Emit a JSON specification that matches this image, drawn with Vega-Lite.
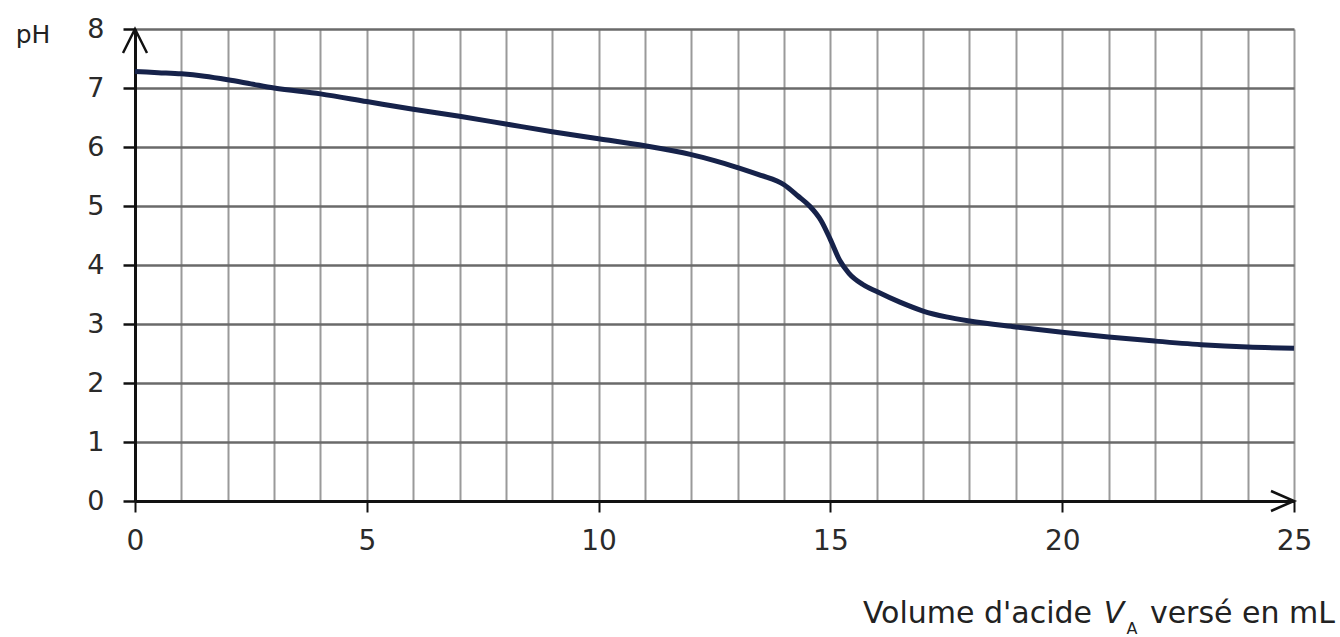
{
  "$schema": "https://vega.github.io/schema/vega-lite/v6.json",
  "width": 1159,
  "height": 472,
  "autosize": {"type": "none"},
  "padding": {"left": 135, "top": 29, "right": 46, "bottom": 136},
  "background": "white",
  "config": {
    "view": {"stroke": null},
    "font": "DejaVu Sans"
  },
  "layer": [
    {
      "data": {
        "values": [
          {"V": 0, "pH": 7.28},
          {"V": 0.5, "pH": 7.26},
          {"V": 1, "pH": 7.24},
          {"V": 1.5, "pH": 7.2},
          {"V": 2, "pH": 7.14},
          {"V": 2.5, "pH": 7.07},
          {"V": 3, "pH": 7.0},
          {"V": 4, "pH": 6.9},
          {"V": 5, "pH": 6.77},
          {"V": 6, "pH": 6.64},
          {"V": 7, "pH": 6.52},
          {"V": 8, "pH": 6.39},
          {"V": 9, "pH": 6.26},
          {"V": 10, "pH": 6.14},
          {"V": 11, "pH": 6.02},
          {"V": 12, "pH": 5.87},
          {"V": 12.5, "pH": 5.77},
          {"V": 13, "pH": 5.65},
          {"V": 13.5, "pH": 5.52},
          {"V": 14, "pH": 5.36},
          {"V": 14.3, "pH": 5.17},
          {"V": 14.55, "pH": 5.0},
          {"V": 14.8, "pH": 4.75},
          {"V": 15, "pH": 4.43},
          {"V": 15.2, "pH": 4.08},
          {"V": 15.4, "pH": 3.86},
          {"V": 15.7, "pH": 3.67},
          {"V": 16, "pH": 3.55},
          {"V": 16.5, "pH": 3.37},
          {"V": 17, "pH": 3.22},
          {"V": 17.5, "pH": 3.12},
          {"V": 18, "pH": 3.05},
          {"V": 19, "pH": 2.95},
          {"V": 20, "pH": 2.86},
          {"V": 21, "pH": 2.78},
          {"V": 22, "pH": 2.71},
          {"V": 23, "pH": 2.65},
          {"V": 24, "pH": 2.61},
          {"V": 25, "pH": 2.59}
        ]
      },
      "mark": {"type": "line", "interpolate": "monotone", "color": "#16224a", "strokeWidth": 5},
      "encoding": {
        "x": {
          "field": "V",
          "type": "quantitative",
          "scale": {"domain": [0, 25], "nice": false},
          "axis": {
            "title": null,
            "values": [0, 1, 2, 3, 4, 5, 6, 7, 8, 9, 10, 11, 12, 13, 14, 15, 16, 17, 18, 19, 20, 21, 22, 23, 24, 25],
            "format": "d",
            "grid": true,
            "gridColor": "#9a9a9a",
            "gridWidth": 2,
            "gridOpacity": 1,
            "domainColor": "#111111",
            "domainWidth": 3,
            "tickColor": "#111111",
            "tickWidth": 2,
            "tickSize": 11,
            "tickOpacity": {"condition": {"test": "datum.value % 5 === 0", "value": 1}, "value": 0},
            "labelExpr": "datum.value % 5 === 0 ? datum.label : ''",
            "labelFont": "DejaVu Sans",
            "labelFontSize": 28,
            "labelColor": "#2a2a2a",
            "labelPadding": 15,
            "labelFlush": false,
            "labelOverlap": false
          }
        },
        "y": {
          "field": "pH",
          "type": "quantitative",
          "scale": {"domain": [0, 8], "nice": false},
          "axis": {
            "title": null,
            "values": [0, 1, 2, 3, 4, 5, 6, 7, 8],
            "format": "d",
            "grid": true,
            "gridColor": "#6a6a6a",
            "gridWidth": 2.5,
            "gridOpacity": 1,
            "domainColor": "#111111",
            "domainWidth": 3,
            "tickColor": "#111111",
            "tickWidth": 2.5,
            "tickSize": 12,
            "labelFont": "DejaVu Sans",
            "labelFontSize": 27,
            "labelColor": "#2a2a2a",
            "labelPadding": 19,
            "labelFlush": false,
            "labelOverlap": false
          }
        }
      }
    },
    {
      "data": {"values": [{}]},
      "mark": {"type": "point", "shape": "M-1,2L0,0L1,2", "filled": false, "size": 576, "stroke": "#111111", "strokeWidth": 2.5, "opacity": 1},
      "encoding": {"x": {"datum": 0}, "y": {"datum": 8}}
    },
    {
      "data": {"values": [{}]},
      "mark": {"type": "point", "shape": "M-2.3,-1L0,0L-2.3,1", "filled": false, "size": 400, "stroke": "#111111", "strokeWidth": 2.5, "opacity": 1},
      "encoding": {"x": {"datum": 25}, "y": {"datum": 0}}
    },
    {
      "data": {"values": [{}]},
      "mark": {"type": "text", "text": "pH", "font": "DejaVu Sans", "fontSize": 25, "fill": "#222222", "align": "center", "baseline": "alphabetic", "dx": -102, "dy": 14},
      "encoding": {"x": {"datum": 0}, "y": {"datum": 8}}
    },
    {
      "data": {"values": [{}]},
      "mark": {"type": "text", "text": "Volume d'acide", "font": "DejaVu Sans", "fontSize": 30, "fill": "#222222", "align": "right", "baseline": "alphabetic", "dx": -202, "dy": 122},
      "encoding": {"x": {"datum": 25}, "y": {"datum": 0}}
    },
    {
      "data": {"values": [{}]},
      "mark": {"type": "text", "text": "V", "font": "DejaVu Sans", "fontStyle": "italic", "fontSize": 30, "fill": "#222222", "align": "center", "baseline": "alphabetic", "dx": -180, "dy": 122},
      "encoding": {"x": {"datum": 25}, "y": {"datum": 0}}
    },
    {
      "data": {"values": [{}]},
      "mark": {"type": "text", "text": "A", "font": "DejaVu Sans", "fontSize": 16, "fill": "#222222", "align": "center", "baseline": "alphabetic", "dx": -162, "dy": 133},
      "encoding": {"x": {"datum": 25}, "y": {"datum": 0}}
    },
    {
      "data": {"values": [{}]},
      "mark": {"type": "text", "text": "versé en mL", "font": "DejaVu Sans", "fontSize": 30, "fill": "#222222", "align": "right", "baseline": "alphabetic", "dx": 41, "dy": 122},
      "encoding": {"x": {"datum": 25}, "y": {"datum": 0}}
    }
  ]
}
